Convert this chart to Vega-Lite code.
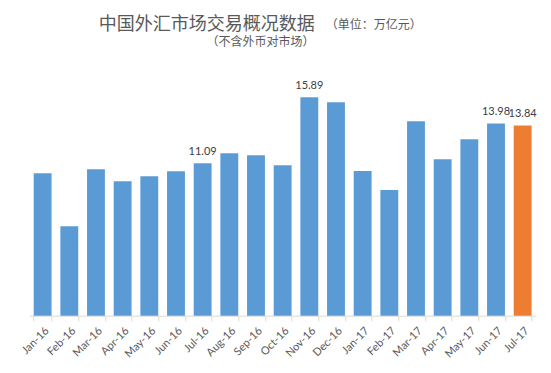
{
  "$schema": "https://vega.github.io/schema/vega-lite/v6.json",
  "width": 506.7,
  "height": 247.5,
  "autosize": {"type": "none"},
  "padding": {"left": 29.3, "top": 68.2, "right": 15, "bottom": 57.3},
  "background": "white",
  "title": {
    "text": "中国外汇市场交易概况数据",
    "anchor": "middle",
    "frame": "group",
    "dx": -76,
    "offset": -34,
    "baseline": "bottom",
    "font": "Noto Sans CJK SC",
    "fontSize": 18,
    "fontWeight": "normal",
    "color": "#595959"
  },
  "config": {"view": {"stroke": null}},
  "data": {
    "values": [
      {"month": "Jan-16", "value": 10.36, "type": "normal", "labeled": false},
      {"month": "Feb-16", "value": 6.51, "type": "normal", "labeled": false},
      {"month": "Mar-16", "value": 10.65, "type": "normal", "labeled": false},
      {"month": "Apr-16", "value": 9.78, "type": "normal", "labeled": false},
      {"month": "May-16", "value": 10.15, "type": "normal", "labeled": false},
      {"month": "Jun-16", "value": 10.51, "type": "normal", "labeled": false},
      {"month": "Jul-16", "value": 11.09, "type": "normal", "labeled": true},
      {"month": "Aug-16", "value": 11.82, "type": "normal", "labeled": false},
      {"month": "Sep-16", "value": 11.67, "type": "normal", "labeled": false},
      {"month": "Oct-16", "value": 10.95, "type": "normal", "labeled": false},
      {"month": "Nov-16", "value": 15.89, "type": "normal", "labeled": true},
      {"month": "Dec-16", "value": 15.53, "type": "normal", "labeled": false},
      {"month": "Jan-17", "value": 10.53, "type": "normal", "labeled": false},
      {"month": "Feb-17", "value": 9.15, "type": "normal", "labeled": false},
      {"month": "Mar-17", "value": 14.15, "type": "normal", "labeled": false},
      {"month": "Apr-17", "value": 11.38, "type": "normal", "labeled": false},
      {"month": "May-17", "value": 12.84, "type": "normal", "labeled": false},
      {"month": "Jun-17", "value": 13.98, "type": "normal", "labeled": true},
      {"month": "Jul-17", "value": 13.84, "type": "latest", "labeled": true}
    ]
  },
  "encoding": {
    "x": {
      "field": "month",
      "type": "ordinal",
      "sort": null,
      "scale": {"paddingInner": 0.33, "paddingOuter": 0.165},
      "axis": {
        "labelAngle": -45,
        "labelFont": "Lato",
        "labelFontSize": 11,
        "labelColor": "#595959",
        "labelPadding": 4,
        "domainColor": "#d9d9d9",
        "tickColor": "#d9d9d9",
        "tickSize": 5,
        "tickBand": "extent",
        "title": "（不含外币对市场）",
        "titleFont": "Noto Sans CJK SC",
        "titleFontSize": 12,
        "titleFontWeight": "normal",
        "titleColor": "#595959",
        "titleAngle": 0,
        "titleAlign": "center",
        "titleBaseline": "middle",
        "titleX": 230.7,
        "titleY": -274.7
      }
    },
    "y": {
      "field": "value",
      "type": "quantitative",
      "scale": {"domain": [0, 18], "nice": false},
      "axis": {
        "labels": false,
        "ticks": false,
        "domain": false,
        "grid": false,
        "title": "（单位：万亿元）",
        "titleFont": "Noto Sans CJK SC",
        "titleFontSize": 12,
        "titleFontWeight": "normal",
        "titleColor": "#595959",
        "titleAngle": 0,
        "titleAlign": "left",
        "titleBaseline": "middle",
        "titleX": 296,
        "titleY": -44
      }
    }
  },
  "layer": [
    {
      "mark": {"type": "bar"},
      "encoding": {
        "color": {
          "field": "type",
          "type": "nominal",
          "scale": {"domain": ["normal", "latest"], "range": ["#5B9BD5", "#ED7D31"]},
          "legend": null
        }
      }
    },
    {
      "transform": [{"filter": "datum.labeled"}],
      "mark": {"type": "text", "baseline": "alphabetic", "dy": -8, "font": "Lato", "fontSize": 11, "color": "#404040"},
      "encoding": {
        "text": {"field": "value", "type": "quantitative", "format": ".2f"}
      }
    }
  ]
}
